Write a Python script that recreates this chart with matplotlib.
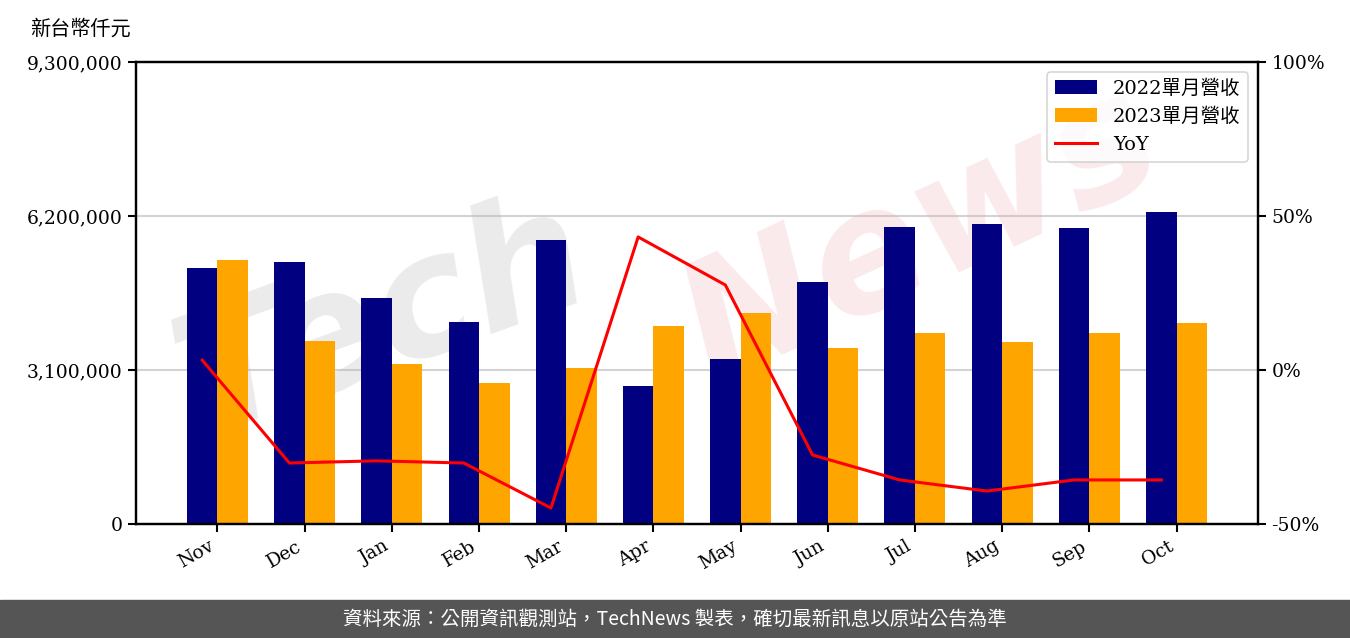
import numpy as np
import matplotlib
matplotlib.use('Agg')
import matplotlib.pyplot as plt
from matplotlib.ticker import FuncFormatter

months = ['Nov', 'Dec', 'Jan', 'Feb', 'Mar', 'Apr', 'May', 'Jun', 'Jul', 'Aug', 'Sep', 'Oct']
rev_2022 = [5153000, 5274000, 4549000, 4066000, 5717000, 2778000,
            3321000, 4871000, 5979000, 6039000, 5958000, 6280000]
rev_2023 = [5314000, 3684000, 3221000, 2838000, 3140000, 3986000,
            4247000, 3543000, 3845000, 3664000, 3845000, 4046000]
yoy = [3.2, -30.2, -29.5, -30.2, -44.8, 43.2, 27.6, -27.6, -35.7, -39.3, -35.7, -35.7]

plt.rcParams['font.family'] = ['DejaVu Serif', 'Noto Sans CJK TC']

fig = plt.figure(figsize=(13.5, 6.38), dpi=100)
ax = fig.add_axes([0.1007, 0.1787, 0.8312, 0.7241])

x = np.arange(len(months))
w = 0.35
b1 = ax.bar(x - w / 2, rev_2022, w, color='#000080', label='2022單月營收', zorder=2)
b2 = ax.bar(x + w / 2, rev_2023, w, color='#FFA500', label='2023單月營收', zorder=2)

ax.set_ylim(0, 9300000)
ax.set_yticks([0, 3100000, 6200000, 9300000])
ax.yaxis.set_major_formatter(FuncFormatter(lambda v, p: f'{int(v):,}'))
ax.set_xticks(x)
ax.set_xticklabels(months, rotation=30, ha='right')
ax.tick_params(labelsize=13.5, width=1.5, length=6)
ax.yaxis.grid(True, color='#d3d3d3', linewidth=1.5, zorder=0)
ax.set_axisbelow(True)
for s in ax.spines.values():
    s.set_linewidth(1.6)

# watermark
ax.text(0.22, 0.44, 'Tech', transform=ax.transAxes, fontsize=120, fontweight='bold',
        fontstyle='italic', family='DejaVu Sans', color='#b0b0b0', alpha=0.25,
        rotation=20, ha='center', va='center', zorder=1)
ax.text(0.70, 0.62, 'News', transform=ax.transAxes, fontsize=120, fontweight='bold',
        fontstyle='italic', family='DejaVu Sans', color='#e8a0a8', alpha=0.22,
        rotation=25, ha='center', va='center', zorder=1)

ax2 = ax.twinx()
ln, = ax2.plot(x - w / 2, yoy, color='red', linewidth=2.2, label='YoY')
ax2.set_ylim(-50, 100)
ax2.set_yticks([-50, 0, 50, 100])
ax2.yaxis.set_major_formatter(FuncFormatter(lambda v, p: f'{int(v)}%'))
ax2.tick_params(labelsize=13.5, width=1.5, length=6)
for s in ax2.spines.values():
    s.set_linewidth(1.6)

leg = ax2.legend(handles=[b1, b2, ln], loc='upper right', fontsize=14,
                 frameon=True, edgecolor='#cccccc', fancybox=True, handlelength=2.2)
leg.get_frame().set_linewidth(1.2)

fig.text(0.022, 0.955, '新台幣仟元', fontsize=14.5, ha='left', va='center')

# footer band
fig.patches.append(plt.Rectangle((0, 0), 1, 38 / 638, transform=fig.transFigure,
                                 color='#555555', zorder=0))
fig.text(0.5, 19 / 638, '資料來源：公開資訊觀測站，TechNews 製表，確切最新訊息以原站公告為準',
         color='white', fontsize=14, ha='center', va='center',
         family=['Noto Sans CJK TC', 'DejaVu Sans'])

fig.savefig('out.png', dpi=100)
